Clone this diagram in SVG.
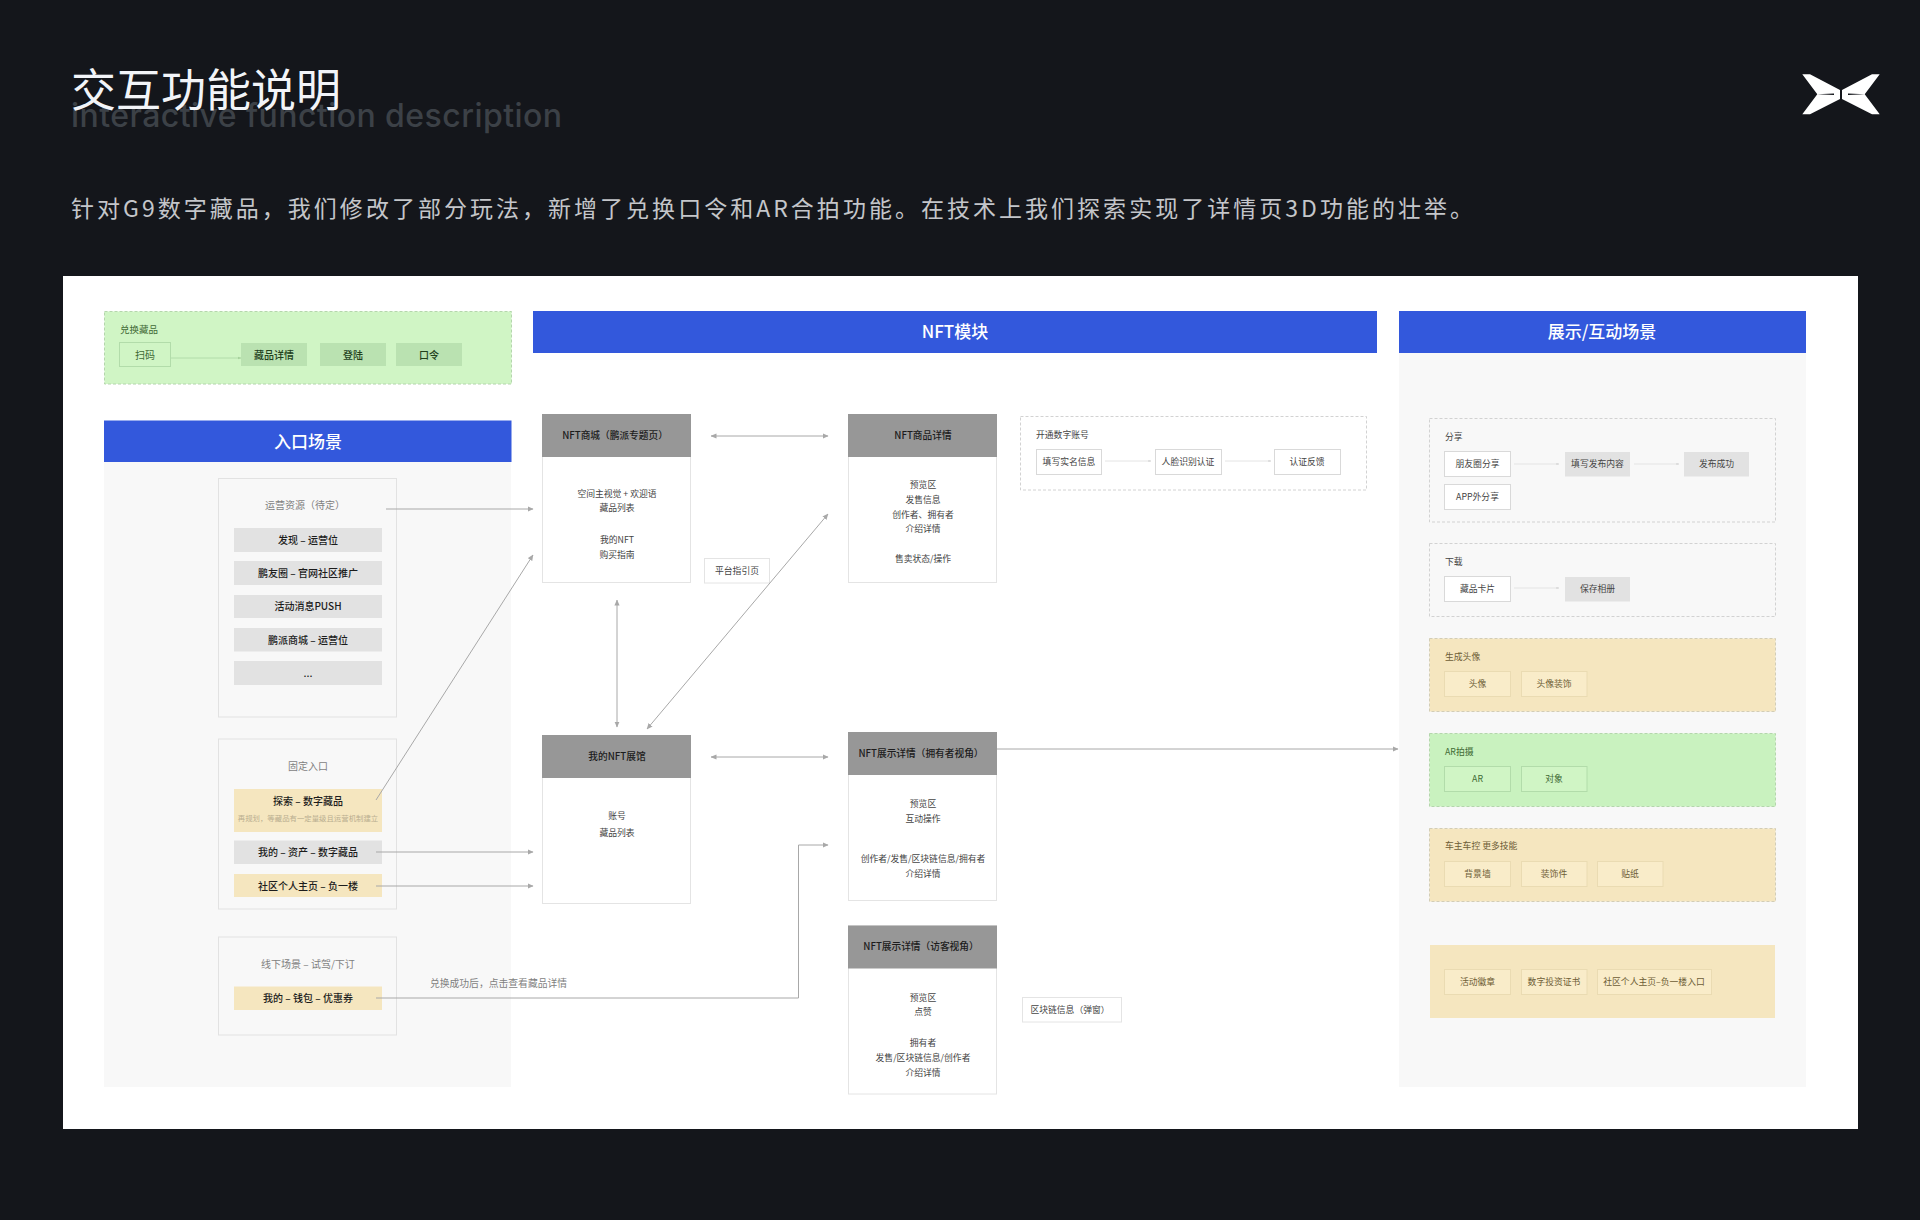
<svg xmlns="http://www.w3.org/2000/svg" width="1920" height="1220" viewBox="0 0 1920 1220">
<defs>
<marker id="ah" markerUnits="userSpaceOnUse" viewBox="0 0 6 6" refX="5.5" refY="3" markerWidth="6" markerHeight="6" orient="auto-start-reverse"><path d="M0 0.4L6 3L0 5.6Z" fill="#a8a8a8"/></marker>
<marker id="al" markerUnits="userSpaceOnUse" viewBox="0 0 4 4" refX="3.5" refY="2" markerWidth="3" markerHeight="3" orient="auto"><path d="M0 0.6L4 2L0 3.4Z" fill="#d4d4d4"/></marker>
<marker id="ag" markerUnits="userSpaceOnUse" viewBox="0 0 4 4" refX="3.5" refY="2" markerWidth="4" markerHeight="4" orient="auto"><path d="M0 0.6L4 2L0 3.4Z" fill="#a6d29c"/></marker>
</defs>
<style>
text{font-family:"Noto Sans CJK SC","Noto Sans",sans-serif;text-anchor:middle;dominant-baseline:central;font-size:10px;fill:#333;transform:translateY(-0.7px)}
.l{text-anchor:start}
.hd{fill:#3358dc}
.hdt{font-size:17px;font-weight:500;fill:#fff}
.pan{fill:#f8f8f8}
.sec{fill:#f8f8f8;stroke:#e2e2e2;stroke-width:1}
.gr{fill:#e2e2e2}
.ye{fill:#f5e6bf}
.b{fill:#1c1c1c;font-weight:500}
.mut{fill:#7f7f7f}
.card{fill:#fff;stroke:#e4e4e4;stroke-width:1}
.ch{fill:#979797}
.chb{fill:#1c1c1c;font-weight:500;font-size:9.700px}
.tx{fill:#444;font-size:8.800px}
.wb{fill:#fff;stroke:#d9d9d9;stroke-width:1}
.dash{fill:none;stroke:#d2d2d2;stroke-width:1;stroke-dasharray:3 2}
.dy{fill:#f5e6bf;stroke:#d2cdb6;stroke-width:1;stroke-dasharray:3 2}
.dg{fill:#c9f2bf;stroke:#b4d6ac;stroke-width:1;stroke-dasharray:3 2}
.dg2{fill:#d0f5c5;stroke:#b4d6ac;stroke-width:1;stroke-dasharray:3 2}
.yb{fill:#f9ecc9;stroke:#eadbb2;stroke-width:1}
.gb{fill:#d0f5c5;stroke:#b2dcaa;stroke-width:1}
.gf{fill:#bae2b1}
.ty{fill:#6d5d36}
.tg{fill:#3f6a35}
.c1{fill:none;stroke:#a8a8a8;stroke-width:1}
.c2{fill:none;stroke:#e4e4e4;stroke-width:1}
</style>
<rect width="1920" height="1220" fill="#14161b"/>
<g id="heading">
<text class="l" x="71" y="127.700" style="dominant-baseline:alphabetic;font-size:32px;font-weight:500;fill:#3c4147;font-family:Inter,sans-serif" textLength="491">interactive function description</text>
<text class="l" x="71" y="108" style="dominant-baseline:alphabetic;font-size:45px;fill:#f2f4f8">交互功能说明</text>
<text class="l" x="71" y="207.500" style="font-size:23px;fill:#c4c6ca" textLength="1402">针对G9数字藏品&#xFF0C;我们修改了部分玩法&#xFF0C;新增了兑换口令和AR合拍功能。在技术上我们探索实现了详情页3D功能的壮举。</text>
</g>
<g id="logo" fill="#fff">
<path d="M1802.3 74.3H1810L1840 90V99L1810 114.3H1802.3L1817.3 94.3Z"/>
<path d="M1879.7 74.3H1872L1842 90V99L1872 114.3H1879.7L1864.7 94.3Z"/>
<path d="M1817.3 94.3L1834 93.6V95Z M1864.7 94.3L1848 93.6V95Z" fill="#14161b"/>
</g>
<rect id="sheet" x="63" y="276" width="1795" height="853" fill="#fff"/>
<g id="redeem">
<rect class="dg2" x="104.500" y="311.500" width="407" height="72.500"/>
<text class="l tg" x="120" y="330" style="font-size:9.500px">兑换藏品</text>
<rect class="gb" x="119.500" y="342.500" width="51" height="24"/><text class="tg" x="145" y="355">扫码</text>
<rect class="gf" x="241" y="343" width="66" height="23"/><text class="tg" x="274" y="355" style="font-weight:500;fill:#22401b">藏品详情</text>
<rect class="gf" x="320" y="343" width="66" height="23"/><text class="tg" x="353" y="355" style="font-weight:500;fill:#22401b">登陆</text>
<rect class="gf" x="396" y="343" width="66" height="23"/><text class="tg" x="429" y="355" style="font-weight:500;fill:#22401b">口令</text>
</g>
<g id="entry-panel">
<rect class="pan" x="104" y="462" width="407" height="625"/>
<rect class="hd" x="104" y="420.500" width="407.500" height="41.500"/>
<text class="hdt" x="308" y="441.500">入口场景</text>
</g>
<g id="nft-header"><rect class="hd" x="533" y="311" width="844" height="42"/><text class="hdt" x="955" y="331.500">NFT模块</text></g>
<g id="scene-panel">
<rect class="pan" x="1399" y="353" width="407" height="734"/>
<rect class="hd" x="1399" y="311" width="407" height="42"/>
<text class="hdt" x="1602" y="331.500">展示/互动场景</text>
</g>
<g id="ops">
<rect class="sec" x="218.500" y="478.500" width="178" height="238.500"/>
<text class="mut" x="305" y="505">运营资源&#xFF08;待定&#xFF09;</text>
<rect class="gr" x="234" y="528" width="148" height="24"/><text class="b" x="308" y="540">发现 – 运营位</text>
<rect class="gr" x="234" y="561" width="148" height="24"/><text class="b" x="308" y="573">鹏友圈 – 官网社区推广</text>
<rect class="gr" x="234" y="595" width="148" height="23"/><text class="b" x="308" y="606">活动消息PUSH</text>
<rect class="gr" x="234" y="628" width="148" height="23.500"/><text class="b" x="308" y="640">鹏派商城 – 运营位</text>
<rect class="gr" x="234" y="661" width="148" height="24"/><text class="b" x="308" y="673">...</text>
</g>
<g id="fixed">
<rect class="sec" x="218.500" y="739" width="178" height="170"/>
<text class="mut" x="308" y="766">固定入口</text>
<rect class="ye" x="234" y="789" width="148" height="43"/>
<text class="b" x="308" y="801">探索 – 数字藏品</text>
<text x="308" y="818" style="font-size:7.400px;fill:#b9ae8f">再规划&#xFF0C;等藏品有一定量级且运营机制建立</text>
<rect class="gr" x="234" y="840.500" width="148" height="23.500"/><text class="b" x="308" y="852">我的 – 资产 – 数字藏品</text>
<rect class="ye" x="234" y="874" width="148" height="23"/><text class="b" x="308" y="886">社区个人主页 – 负一楼</text>
</g>
<g id="offline">
<rect class="sec" x="218.500" y="937" width="178" height="98"/>
<text class="mut" x="308" y="964">线下场景 – 试驾/下订</text>
<rect class="ye" x="234" y="986.500" width="148" height="23.500"/><text class="b" x="308" y="998">我的 – 钱包 – 优惠券</text>
</g>
<g id="nft-mall">
<rect class="card" x="542.500" y="414.500" width="148" height="168"/><rect class="ch" x="542" y="414" width="149" height="43"/>
<text class="chb" x="615" y="436">NFT商城&#xFF08;鹏派专题页&#xFF09;</text>
<text class="tx" x="617" y="494">空间主视觉 + 欢迎语</text><text class="tx" x="617" y="508">藏品列表</text><text class="tx" x="617" y="540">我的NFT</text><text class="tx" x="617" y="555">购买指南</text>
</g>
<g id="guide"><rect class="card" x="704.500" y="558.500" width="65" height="24.500"/><text class="tx" x="737" y="571">平台指引页</text></g>
<g id="nft-detail">
<rect class="card" x="848.500" y="414.500" width="148" height="168"/><rect class="ch" x="848" y="414" width="149" height="43"/>
<text class="chb" x="923" y="436">NFT商品详情</text>
<text class="tx" x="923" y="485">预览区</text><text class="tx" x="923" y="500">发售信息</text><text class="tx" x="923" y="515">创作者、拥有者</text><text class="tx" x="923" y="529">介绍详情</text><text class="tx" x="923" y="559">售卖状态/操作</text>
</g>
<g id="my-gallery">
<rect class="card" x="542.500" y="735.500" width="148" height="168"/><rect class="ch" x="542" y="735" width="149" height="43"/>
<text class="chb" x="617" y="757">我的NFT展馆</text>
<text class="tx" x="617" y="816">账号</text><text class="tx" x="617" y="833">藏品列表</text>
</g>
<g id="owner-view">
<rect class="card" x="848.500" y="732.500" width="148" height="168"/><rect class="ch" x="848" y="732" width="149" height="43"/>
<text class="chb" x="921" y="754">NFT展示详情&#xFF08;拥有者视角&#xFF09;</text>
<text class="tx" x="923" y="804">预览区</text><text class="tx" x="923" y="819">互动操作</text><text class="tx" x="923" y="859">创作者/发售/区块链信息/拥有者</text><text class="tx" x="923" y="874">介绍详情</text>
</g>
<g id="visitor-view">
<rect class="card" x="848.500" y="926" width="148" height="168"/><rect class="ch" x="848" y="925.500" width="149" height="43"/>
<text class="chb" x="921" y="947">NFT展示详情&#xFF08;访客视角&#xFF09;</text>
<text class="tx" x="923" y="998">预览区</text><text class="tx" x="923" y="1012">点赞</text><text class="tx" x="923" y="1043">拥有者</text><text class="tx" x="923" y="1058">发售/区块链信息/创作者</text><text class="tx" x="923" y="1073">介绍详情</text>
</g>
<g id="chain-popup"><rect class="card" x="1022.500" y="997.500" width="99" height="24.500"/><text class="tx" x="1070" y="1010">区块链信息&#xFF08;弹窗&#xFF09;</text></g>
<g id="open-account">
<rect class="dash" x="1020.500" y="416.500" width="346" height="73.500"/>
<text class="l tx" x="1036" y="435">开通数字账号</text>
<rect class="wb" x="1036.500" y="449.500" width="65" height="25"/><text class="tx" x="1069" y="462">填写实名信息</text>
<rect class="wb" x="1155.500" y="449.500" width="66" height="25"/><text class="tx" x="1188" y="462">人脸识别认证</text>
<rect class="wb" x="1274.500" y="449.500" width="66" height="25"/><text class="tx" x="1307" y="462">认证反馈</text>
</g>
<g id="share">
<rect class="dash" x="1429.500" y="418.500" width="346" height="103.500"/>
<text class="l tx" x="1445" y="437">分享</text>
<rect class="wb" x="1444.500" y="451.500" width="66" height="25"/><text class="tx" x="1477.500" y="464">朋友圈分享</text>
<rect class="wb" x="1444.500" y="484.500" width="66" height="25"/><text class="tx" x="1477.500" y="497">APP外分享</text>
<rect class="gr" x="1565" y="452" width="65" height="24.500"/><text class="tx" x="1597.500" y="464">填写发布内容</text>
<rect class="gr" x="1684" y="452" width="65" height="24.500"/><text class="tx" x="1716.500" y="464">发布成功</text>
</g>
<g id="download">
<rect class="dash" x="1429.500" y="543.500" width="346" height="73"/>
<text class="l tx" x="1445" y="562">下载</text>
<rect class="wb" x="1444.500" y="576.500" width="66" height="25"/><text class="tx" x="1477.500" y="589">藏品卡片</text>
<rect class="gr" x="1565" y="577" width="65" height="24.500"/><text class="tx" x="1597.500" y="589">保存相册</text>
</g>
<g id="avatar">
<rect class="dy" x="1429.500" y="638.500" width="346" height="73"/>
<text class="l tx ty" x="1445" y="657">生成头像</text>
<rect class="yb" x="1444.500" y="671.500" width="66" height="25"/><text class="tx ty" x="1477.500" y="684">头像</text>
<rect class="yb" x="1521.500" y="671.500" width="65.500" height="25"/><text class="tx ty" x="1554" y="684">头像装饰</text>
</g>
<g id="ar">
<rect class="dg" x="1429.500" y="733.500" width="346" height="73"/>
<text class="l tx tg" x="1445" y="752">AR拍摄</text>
<rect class="gb" x="1444.500" y="766.500" width="66" height="25"/><text class="tx tg" x="1477.500" y="779">AR</text>
<rect class="gb" x="1521.500" y="766.500" width="65.500" height="25"/><text class="tx tg" x="1554" y="779">对象</text>
</g>
<g id="owner-skills">
<rect class="dy" x="1429.500" y="828.500" width="346" height="73"/>
<text class="l tx ty" x="1445" y="846.500">车主车控 更多技能</text>
<rect class="yb" x="1444.500" y="861.500" width="66" height="25"/><text class="tx ty" x="1477.500" y="874">背景墙</text>
<rect class="yb" x="1521.500" y="861.500" width="65.500" height="25"/><text class="tx ty" x="1554" y="874">装饰件</text>
<rect class="yb" x="1597.500" y="861.500" width="65.500" height="25"/><text class="tx ty" x="1630" y="874">贴纸</text>
</g>
<g id="badges">
<rect class="ye" x="1430" y="945" width="345" height="73"/>
<rect class="yb" x="1444.500" y="969.500" width="66" height="25"/><text class="tx ty" x="1477.500" y="982">活动徽章</text>
<rect class="yb" x="1521.500" y="969.500" width="65.500" height="25"/><text class="tx ty" x="1554" y="982">数字投资证书</text>
<rect class="yb" x="1597.500" y="969.500" width="114" height="25"/><text class="tx ty" x="1654" y="982">社区个人主页–负一楼入口</text>
</g>
<g id="connectors">
<path class="c1" d="M386 509H533" marker-end="url(#ah)"/>
<path class="c1" d="M376 800L533 555" marker-end="url(#ah)"/>
<path class="c1" d="M376 852H533" marker-end="url(#ah)"/>
<path class="c1" d="M376 886H533" marker-end="url(#ah)"/>
<path class="c1" d="M376 998H798.500V845H828" marker-end="url(#ah)"/>
<path class="c1" d="M711 436H828" marker-start="url(#ah)" marker-end="url(#ah)"/>
<path class="c1" d="M617 600V727" marker-start="url(#ah)" marker-end="url(#ah)"/>
<path class="c1" d="M647 729L828 514" marker-start="url(#ah)" marker-end="url(#ah)"/>
<path class="c1" d="M711 757H828" marker-start="url(#ah)" marker-end="url(#ah)"/>
<path class="c1" d="M997 749H1398" marker-end="url(#ah)"/>
<path class="c2" d="M1105 461H1151" marker-end="url(#al)"/>
<path class="c2" d="M1225 461H1271" marker-end="url(#al)"/>
<path class="c2" d="M1514 464H1559" marker-end="url(#al)"/>
<path class="c2" d="M1634 464H1679" marker-end="url(#al)"/>
<path class="c2" d="M1514 588H1559" marker-end="url(#al)"/>
<path fill="none" stroke="#b2dcaa" d="M171 358H241" marker-end="url(#ag)"/>
</g>
<text id="redeem-note" class="mut" x="498.500" y="984" style="font-size:9.800px">兑换成功后&#xFF0C;点击查看藏品详情</text>
</svg>
